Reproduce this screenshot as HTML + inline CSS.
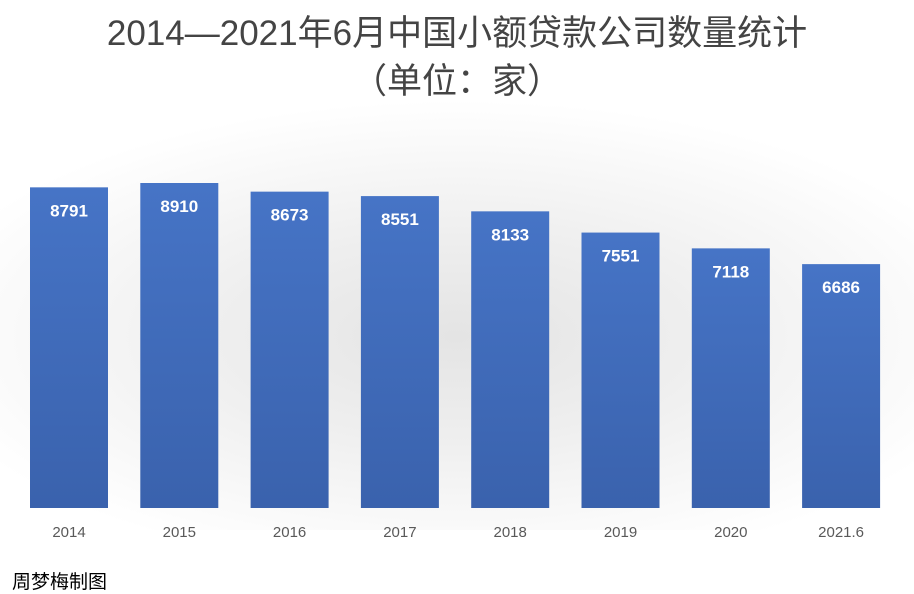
<!DOCTYPE html>
<html><head><meta charset="utf-8"><style>
body{margin:0;width:914px;height:592px;overflow:hidden;background:#fff;font-family:"Liberation Sans","Noto Sans CJK SC",sans-serif;}
#bg{position:absolute;left:0;top:100px;width:914px;height:430px;background:radial-gradient(ellipse 60% 55% at 50% 55%,#e4e4e4 0%,#efefef 45%,#fff 100%);}
h1{position:absolute;left:0;top:10px;width:914px;margin:0;text-align:center;font-weight:normal;font-size:35px;line-height:48px;color:#444;}
#credit{position:absolute;left:12px;top:567px;font-size:19px;color:#000;}
svg{position:absolute;left:0;top:0;}
</style></head><body>
<div id="bg"></div>
<h1>2014—2021年6月中国小额贷款公司数量统计<br>（单位：家）</h1>
<svg id="chart" width="914" height="592">
<defs><linearGradient id="g" x1="0" y1="0" x2="0" y2="1"><stop offset="0" stop-color="#4674c6"/><stop offset="1" stop-color="#3a62ad"/></linearGradient></defs>
</svg>
<div id="credit">周梦梅制图</div>
<script>
const categories=["2014","2015","2016","2017","2018","2019","2020","2021.6"];
const values=[8791,8910,8673,8551,8133,7551,7118,6686];
const svg=document.getElementById('chart');
const NS='http://www.w3.org/2000/svg';
const baseY=508, pxPer=325/8910;
function y(v){return baseY-v*pxPer;}
function xc(i){return 69+i*110.3;}
const bw=78;
categories.forEach((c,i)=>{
  const r=document.createElementNS(NS,'rect');
  r.setAttribute('x',xc(i)-bw/2);r.setAttribute('y',y(values[i]));
  r.setAttribute('width',bw);r.setAttribute('height',baseY-y(values[i]));
  r.setAttribute('fill','url(#g)');
  
  
  svg.appendChild(r);
  const t=document.createElementNS(NS,'text');
  t.setAttribute('x',xc(i));t.setAttribute('y',y(values[i])+29);
  t.setAttribute('text-anchor','middle');t.setAttribute('fill','#fff');
  t.setAttribute('font-size','17');t.setAttribute('font-weight','bold');
  t.textContent=values[i];
  
  
  svg.appendChild(t);
  const l=document.createElementNS(NS,'text');
  l.setAttribute('x',xc(i));l.setAttribute('y',537);
  l.setAttribute('text-anchor','middle');l.setAttribute('fill','#595959');
  l.setAttribute('font-size','15');
  l.textContent=c;
  
  
  svg.appendChild(l);
});
</script>
</body></html>
